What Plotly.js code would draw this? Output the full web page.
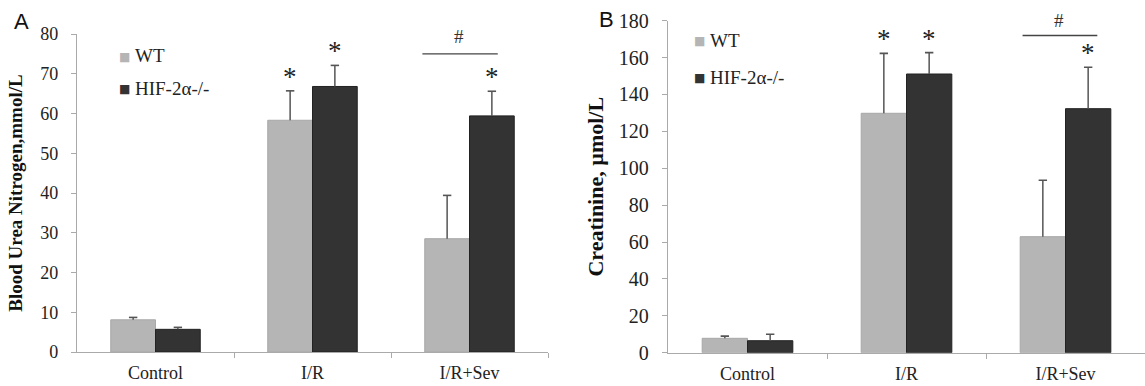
<!DOCTYPE html>
<html>
<head>
<meta charset="utf-8">
<script src="https://cdn.plot.ly/plotly-3.0.1.min.js"></script>
<style>html,body{margin:0;padding:0;background:#fff}#chart{width:1145px;height:386px}</style>
</head>
<body>
<div id="chart"></div>
<script>
const categories = ['Control', 'I/R', 'I/R+Sev'];
const seriesNames = ['WT', 'HIF-2α-/-'];
// Panel A: Blood Urea Nitrogen (mmol/L)
const bunWT = [8.1, 58.3, 28.5];
const bunWTerr = [0.6, 7.4, 10.9];
const bunHIF = [5.7, 66.8, 59.4];
const bunHIFerr = [0.5, 5.3, 6.2];
// Panel B: Creatinine (µmol/L)
const creWT = [7.8, 129.8, 62.9];
const creWTerr = [1.2, 32.5, 30.6];
const creHIF = [6.5, 151.1, 132.3];
const creHIFerr = [3.5, 11.6, 22.5];
// significance marks: * vs control, # between groups
const bunStarWT = [false, true, false];
const bunStarHIF = [false, true, true];
const creStarWT = [false, true, false];
const creStarHIF = [false, true, true];
const hashLevelA = 75;
const hashLevelB = 172;
const yTicksA = [0, 10, 20, 30, 40, 50, 60, 70, 80];
const yTicksB = [0, 20, 40, 60, 80, 100, 120, 140, 160, 180];

const serif = 'Liberation Serif';
const sans = 'Liberation Sans';
const colWT = '#b5b5b5', colHIF = '#333333';
const catIdx = categories.map((c, i) => i);
const half = 0.1425; // half bar width offset with bargap 0.43

function bar(name, y, color, lineColor, xa, ya) {
  return {type: 'bar', name: name, x: catIdx, y: y, xaxis: xa, yaxis: ya, showlegend: false,
    marker: {color: color, line: {color: lineColor, width: 1}}, hoverinfo: 'y'};
}
// upward-only error bars: stem + cap drawn as scatter traces from the data arrays
function errStem(vals, errs, off, xa, ya) {
  const xs = [], ys = [];
  vals.forEach((v, i) => { xs.push(i + off, i + off, null); ys.push(v, v + errs[i], null); });
  return {type: 'scatter', mode: 'lines', x: xs, y: ys, xaxis: xa, yaxis: ya, showlegend: false,
    line: {color: '#555', width: 1.5}, hoverinfo: 'skip', connectgaps: false};
}
function errCap(vals, errs, off, xa, ya) {
  return {type: 'scatter', mode: 'markers', x: vals.map((v, i) => i + off), y: vals.map((v, i) => v + errs[i]),
    xaxis: xa, yaxis: ya, showlegend: false, hoverinfo: 'skip',
    marker: {symbol: 'line-ew', size: 6, line: {color: '#555', width: 1.6}}};
}

const data = [
  bar(seriesNames[0], bunWT, colWT, '#a8a8a8', 'x', 'y'),
  bar(seriesNames[1], bunHIF, colHIF, '#222', 'x', 'y'),
  bar(seriesNames[0], creWT, colWT, '#a8a8a8', 'x2', 'y2'),
  bar(seriesNames[1], creHIF, colHIF, '#222', 'x2', 'y2'),
  errStem(bunWT, bunWTerr, -half, 'x', 'y'), errCap(bunWT, bunWTerr, -half, 'x', 'y'),
  errStem(bunHIF, bunHIFerr, half, 'x', 'y'), errCap(bunHIF, bunHIFerr, half, 'x', 'y'),
  errStem(creWT, creWTerr, -half, 'x2', 'y2'), errCap(creWT, creWTerr, -half, 'x2', 'y2'),
  errStem(creHIF, creHIFerr, half, 'x2', 'y2'), errCap(creHIF, creHIFerr, half, 'x2', 'y2')
];

const annotations = [];
function stars(vals, errs, flags, off, xr, yr) {
  flags.forEach((f, i) => {
    if (!f) return;
    annotations.push({x: i + off, y: vals[i] + errs[i], xref: xr, yref: yr, text: '*', showarrow: false,
      yanchor: 'bottom', yshift: -3, font: {family: serif, size: 27, color: '#222'}});
  });
}
stars(bunWT, bunWTerr, bunStarWT, -half, 'x', 'y');
stars(bunHIF, bunHIFerr, bunStarHIF, half, 'x', 'y');
stars(creWT, creWTerr, creStarWT, -half, 'x2', 'y2');
stars(creHIF, creHIFerr, creStarHIF, half, 'x2', 'y2');
annotations.push({x: 2 - 0.07, y: hashLevelA, xref: 'x', yref: 'y', text: '#', showarrow: false, yanchor: 'middle', yshift: 17, font: {family: serif, size: 19, color: '#333'}});
annotations.push({x: 2 - 0.04, y: hashLevelB, xref: 'x2', yref: 'y2', text: '#', showarrow: false, yanchor: 'middle', yshift: 15, font: {family: serif, size: 19, color: '#333'}});

// panel letters and legends (paper pixel positions)
function paperText(px, py, text, size, family, color, anchor) {
  annotations.push({x: px / 1145, y: 1 - py / 386, xref: 'paper', yref: 'paper', text: text, showarrow: false,
    xanchor: anchor || 'left', yanchor: 'middle', font: {family: family, size: size, color: color}});
}
paperText(12, 22, 'A', 22, sans, '#111');
paperText(597, 20, 'B', 22, sans, '#111');
function legendEntry(px, py, color, label) {
  paperText(px, py + 1, '■', 12, 'DejaVu Sans', color, 'center');
  paperText(px + 9, py, label, 19, serif, '#222');
}
legendEntry(124, 56, colWT, seriesNames[0]);
legendEntry(124, 88, colHIF, seriesNames[1]);
legendEntry(699, 40, colWT, seriesNames[0]);
legendEntry(699, 77, colHIF, seriesNames[1]);

const shapes = [
  {type: 'line', xref: 'x', yref: 'y', x0: 2 - 0.30, x1: 2 + 0.18, y0: hashLevelA, y1: hashLevelA, line: {color: '#444', width: 1.4}},
  {type: 'line', xref: 'x2', yref: 'y2', x0: 2 - 0.27, x1: 2 + 0.20, y0: hashLevelB, y1: hashLevelB, line: {color: '#444', width: 1.4}}
];

const xCommon = {type: 'linear', range: [-0.5, 2.5], tickvals: catIdx, ticktext: categories, ticks: '', ticklabelstandoff: 4,
  minor: {tickvals: [0.5, 1.5, 2.5], ticks: 'outside', ticklen: 5, tickcolor: '#aaa', tickwidth: 1, showgrid: false},
  showline: true, linecolor: '#aaa', linewidth: 1.2, showgrid: false, zeroline: false,
  tickfont: {family: serif, size: 18, color: '#222'}, automargin: false, fixedrange: true};
const yCommon = {ticks: 'outside', ticklen: 5, tickcolor: '#aaa', showline: true, linecolor: '#aaa', linewidth: 1.2,
  showgrid: false, zeroline: false, ticklabelstandoff: 9, automargin: false, fixedrange: true};

const layout = {
  width: 1145, height: 386,
  margin: {l: 0, r: 0, t: 0, b: 0},
  paper_bgcolor: '#fff', plot_bgcolor: '#fff',
  barmode: 'group', bargap: 0.43, bargroupgap: 0,
  showlegend: false,
  xaxis: Object.assign({}, xCommon, {domain: [77 / 1145, 548 / 1145], anchor: 'y'}),
  yaxis: Object.assign({}, yCommon, {domain: [(386 - 352) / 386, (386 - 34) / 386], anchor: 'x', range: [0, 80], tickvals: yTicksA,
    tickfont: {family: serif, size: 18, color: '#222'},
    title: {text: 'Blood Urea Nitrogen,mmol/L', font: {family: serif, size: 19, color: '#111', weight: 'bold'}, standoff: 12}}),
  xaxis2: Object.assign({}, xCommon, {domain: [668 / 1145, 1], anchor: 'y2'}),
  yaxis2: Object.assign({}, yCommon, {domain: [(386 - 352.7) / 386, (386 - 20.7) / 386], anchor: 'x2', range: [0, 180], tickvals: yTicksB,
    tickfont: {family: serif, size: 20, color: '#222'},
    title: {text: 'Creatinine, µmol/L', font: {family: serif, size: 22, color: '#111', weight: 'bold'}, standoff: 9}}),
  annotations: annotations,
  shapes: shapes
};

Plotly.newPlot('chart', data, layout, {staticPlot: true, displayModeBar: false});
</script>
</body>
</html>
